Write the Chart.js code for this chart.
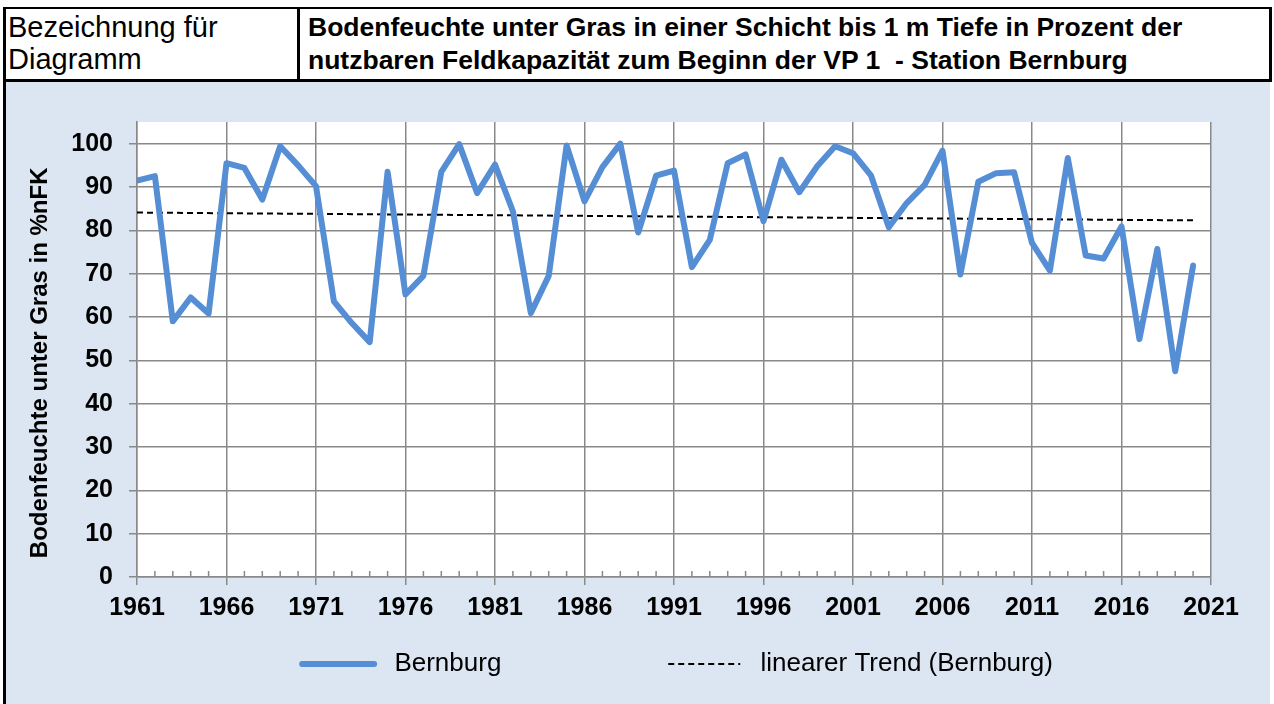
<!DOCTYPE html>
<html>
<head>
<meta charset="utf-8">
<script src="https://cdn.jsdelivr.net/npm/chart.js@4.4.0/dist/chart.umd.min.js"></script>
<style>
  html, body { margin: 0; padding: 0; width: 1274px; height: 704px; overflow: hidden; background: #fff; font-family: "Liberation Sans", Arial, sans-serif; }
  #head { position: absolute; left: 3px; top: 7px; width: 1269px; height: 75px; box-sizing: border-box; border: 3px solid #000; border-top-width: 2px; display: flex; }
  #head .lbl { width: 294px; border-right: 3px solid #000; box-sizing: border-box; font-size: 29px; line-height: 32px; padding: 2px 0 0 2px; }
  #head .ttl { flex: 1; font-weight: bold; font-size: 26.5px; line-height: 33px; padding: 2px 0 0 8px; white-space: nowrap; }
  #panel { position: absolute; left: 3px; top: 82px; width: 1267px; height: 622px; box-sizing: border-box; background: #dce6f2; border-left: 3px solid #000; }
  #c { position: absolute; left: 0; top: 0; }
</style>
</head>
<body>
<div id="head">
  <div class="lbl">Bezeichnung für<br>Diagramm</div>
  <div class="ttl">Bodenfeuchte unter Gras in einer Schicht bis 1 m Tiefe in Prozent der<br>nutzbaren Feldkapazität zum Beginn der VP 1&nbsp; - Station Bernburg</div>
</div>
<div id="panel"></div>
<canvas id="c" width="1274" height="704"></canvas>
<script>
// years 1961-2020
const years = [1961, 1962, 1963, 1964, 1965, 1966, 1967, 1968, 1969, 1970,
  1971, 1972, 1973, 1974, 1975, 1976, 1977, 1978, 1979, 1980,
  1981, 1982, 1983, 1984, 1985, 1986, 1987, 1988, 1989, 1990,
  1991, 1992, 1993, 1994, 1995, 1996, 1997, 1998, 1999, 2000,
  2001, 2002, 2003, 2004, 2005, 2006, 2007, 2008, 2009, 2010,
  2011, 2012, 2013, 2014, 2015, 2016, 2017, 2018, 2019, 2020];

// Bodenfeuchte in %nFK, Station Bernburg
const soilMoisture = [91.5, 92.5, 59.0, 64.5, 60.8, 95.5, 94.4, 87.1, 99.4, 95.0,
  90.2, 63.6, 58.6, 54.2, 93.5, 65.2, 69.5, 93.5, 99.9, 88.6,
  95.2, 84.4, 60.9, 69.5, 99.6, 86.7, 94.6, 100.0, 79.5, 92.6,
  93.8, 71.5, 77.8, 95.5, 97.5, 82.1, 96.3, 88.8, 94.8, 99.4,
  97.8, 92.7, 80.7, 86.3, 90.5, 98.4, 69.8, 91.2, 93.2, 93.4,
  77.1, 70.7, 96.7, 74.2, 73.5, 80.9, 54.9, 75.7, 47.5, 71.9];

// linear trend, end points
const trendYears = [1961, 2020];
const trendValues = [84.1, 82.3];

const seriesLabels = ['Bernburg', 'linearer Trend (Bernburg)'];
const yTitle = 'Bodenfeuchte unter Gras in %nFK';

const blue = '#558ed5';
const gridGray = '#898989';
const fontFamily = '"Liberation Sans", Arial, sans-serif';

Chart.defaults.font.family = fontFamily;

const plotBg = {
  id: 'plotBg',
  beforeDraw(chart) {
    const { ctx, chartArea: a } = chart;
    ctx.save();
    ctx.fillStyle = '#fff';
    ctx.fillRect(a.left, a.top, a.right - a.left, a.bottom - a.top);
    ctx.restore();
  }
};

// small year ticks on the x axis, pointing up into the plot
const minorTicks = {
  id: 'minorTicks',
  beforeDatasetsDraw(chart) {
    const { ctx, scales: { x, y } } = chart;
    const y0 = y.getPixelForValue(0);
    ctx.save();
    ctx.strokeStyle = gridGray;
    ctx.lineWidth = 1.5;
    years.forEach(yr => {
      if ((yr - 1961) % 5 === 0) return;
      const px = x.getPixelForValue(yr);
      ctx.beginPath();
      ctx.moveTo(px, y0);
      ctx.lineTo(px, y0 - 6);
      ctx.stroke();
    });
    ctx.restore();
  }
};

// legend sits a little right of the plot centre
const legendNudge = {
  id: 'legendNudge',
  afterLayout(chart) {
    chart.legend.left += 3.5;
    chart.legend.right += 3.5;
  }
};

new Chart(document.getElementById('c'), {
  type: 'line',
  data: {
    datasets: [
      {
        label: seriesLabels[0],
        data: years.map((yr, i) => ({ x: yr, y: soilMoisture[i] })),
        borderColor: blue,
        borderWidth: 6,
        borderJoinStyle: 'round',
        borderCapStyle: 'round',
        pointRadius: 0,
        tension: 0
      },
      {
        label: seriesLabels[1],
        data: trendYears.map((yr, i) => ({ x: yr, y: trendValues[i] })),
        borderColor: '#000',
        borderWidth: 2,
        borderDash: [6, 4],
        pointRadius: 0,
        tension: 0
      }
    ]
  },
  options: {
    responsive: false,
    animation: false,
    layout: { padding: { left: 7, top: 122, right: 63, bottom: 17 } },
    scales: {
      x: {
        type: 'linear',
        min: 1961,
        max: 2021,
        ticks: {
          stepSize: 5,
          autoSkip: false,
          maxRotation: 0,
          padding: 8,
          color: '#000',
          font: { size: 25, weight: 'bold' },
          callback: v => String(v)
        },
        grid: { color: gridGray, lineWidth: 1.5, tickLength: 8 },
        border: { color: gridGray, width: 1.5 },
        afterFit: s => { s.height = 64; }
      },
      y: {
        min: 0,
        max: 105,
        ticks: {
          stepSize: 10,
          includeBounds: false,
          padding: 16,
          color: '#000',
          font: { size: 25, weight: 'bold' }
        },
        afterBuildTicks: s => { s.ticks = s.ticks.filter(t => t.value <= 100); },
        grid: { color: gridGray, lineWidth: 1.5, tickLength: 8 },
        border: { color: gridGray, width: 1.5 },
        title: {
          display: true,
          text: yTitle + '    ',
          color: '#000',
          font: { size: 24, weight: 'bold' },
          padding: { top: 19, bottom: 0 }
        },
        afterFit: s => { s.width = 130; }
      }
    },
    plugins: {
      tooltip: { enabled: false },
      legend: {
        position: 'bottom',
        fullSize: false,
        labels: {
          color: '#000',
          font: { size: 26 },
          padding: 10,
          usePointStyle: true,
          pointStyle: 'line',
          pointStyleWidth: 72,
          generateLabels(chart) {
            return chart.data.datasets.map((ds, i) => ({
              text: i === 0 ? ' ' + ds.label + ' '.repeat(21) + '\u2009' : ' ' + ds.label,
              fillStyle: ds.borderColor,
              strokeStyle: ds.borderColor,
              lineWidth: ds.borderWidth,
              lineDash: ds.borderDash || [],
              lineCap: i === 0 ? 'round' : 'butt',
              pointStyle: 'line',
              fontColor: '#000',
              hidden: false,
              datasetIndex: i
            }));
          }
        }
      }
    }
  },
  plugins: [plotBg, minorTicks, legendNudge]
});
</script>
</body>
</html>
